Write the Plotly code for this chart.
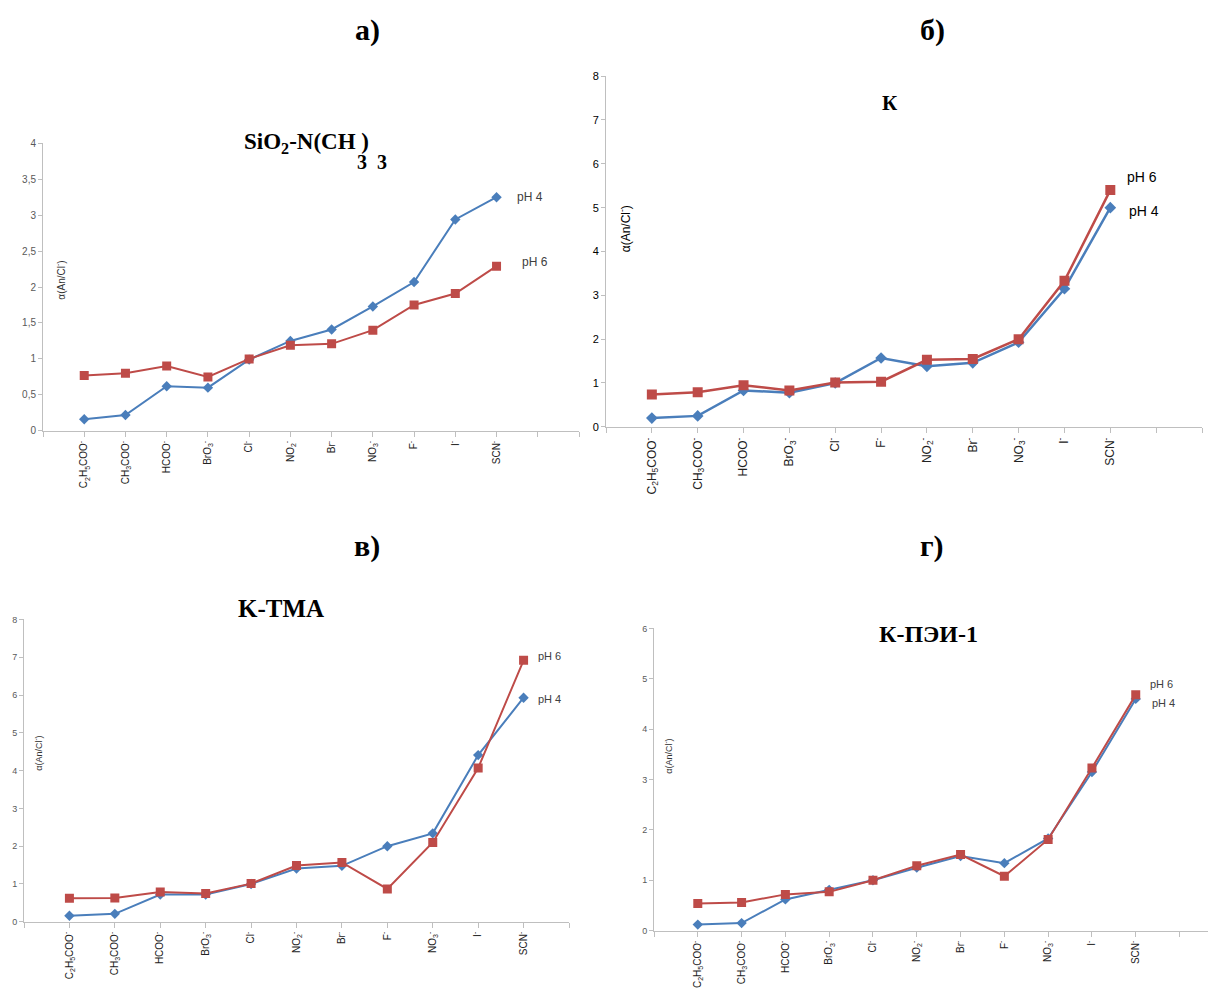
import plotly.graph_objects as go

W, H = 1208, 990

# ---------------- data ----------------
cat_a = ["C<sub>2</sub>H<sub>5</sub>COO<sup>-</sup>", "CH<sub>3</sub>COO<sup>-</sup>", "HCOO<sup>-</sup>",
         "BrO<sub>3</sub><sup>-</sup>", "Cl<sup>-</sup>", "NO<sub>2</sub><sup>-</sup>", "Br<sup>-</sup>",
         "NO<sub>3</sub><sup>-</sup>", "F<sup>-</sup>", "I<sup>-</sup>", "SCN<sup>-</sup>"]
a_ph4 = [0.16, 0.22, 0.62, 0.60, 0.99, 1.25, 1.41, 1.73, 2.07, 2.94, 3.25]
a_ph6 = [0.77, 0.80, 0.90, 0.75, 1.00, 1.19, 1.21, 1.40, 1.75, 1.91, 2.29]

cat_b = ["C<sub>2</sub>H<sub>5</sub>COO<sup>-</sup>", "CH<sub>3</sub>COO<sup>-</sup>", "HCOO<sup>-</sup>",
         "BrO<sub>3</sub><sup>-</sup>", "Cl<sup>-</sup>", "F<sup>-</sup>", "NO<sub>2</sub><sup>-</sup>",
         "Br<sup>-</sup>", "NO<sub>3</sub><sup>-</sup>", "I<sup>-</sup>", "SCN<sup>-</sup>"]
b_ph4 = [0.20, 0.25, 0.83, 0.78, 1.00, 1.57, 1.38, 1.46, 1.93, 3.15, 5.00]
b_ph6 = [0.74, 0.79, 0.95, 0.83, 1.01, 1.03, 1.53, 1.55, 2.00, 3.33, 5.40]

cat_c = ["C<sub>2</sub>H<sub>5</sub>COO<sup>-</sup>", "CH<sub>3</sub>COO<sup>-</sup>", "HCOO<sup>-</sup>",
         "BrO<sub>3</sub><sup>-</sup>", "Cl<sup>-</sup>", "NO<sub>2</sub><sup>-</sup>", "Br<sup>-</sup>",
         "F<sup>-</sup>", "NO<sub>3</sub><sup>-</sup>", "I<sup>-</sup>", "SCN<sup>-</sup>"]
c_ph4 = [0.16, 0.21, 0.72, 0.72, 1.00, 1.41, 1.48, 2.00, 2.34, 4.41, 5.93]
c_ph6 = [0.62, 0.63, 0.79, 0.75, 1.01, 1.49, 1.57, 0.87, 2.10, 4.07, 6.92]

cat_d = cat_c
d_ph4 = [0.12, 0.15, 0.62, 0.81, 1.00, 1.25, 1.48, 1.34, 1.83, 3.15, 4.60]
d_ph6 = [0.54, 0.56, 0.72, 0.77, 1.00, 1.29, 1.51, 1.08, 1.81, 3.23, 4.68]

BLUE = "#4a7ebb"
RED = "#be4b48"
AXC = "#bfbfbf"

fig = go.Figure()

# panel geometry in pixels
panels = [
    dict(cats=cat_a, p4=a_ph4, p6=a_ph6, x0=43, x1=579, yt=139, yb=430, xmax=13, ymax=4, dy=0.5,
         tf=10, tc="#595959", cf=10, lw=2, ms4=8, ms6=9),
    dict(cats=cat_b, p4=b_ph4, p6=b_ph6, x0=606, x1=1202, yt=71, yb=426, xmax=13, ymax=8, dy=1,
         tf=11, tc="#000000", cf=12, lw=2.5, ms4=9, ms6=10),
    dict(cats=cat_c, p4=c_ph4, p6=c_ph6, x0=24, x1=569, yt=621, yb=927, xmax=12, ymax=8, dy=1,
         tf=9, tc="#595959", cf=10, lw=2, ms4=8, ms6=9),
    dict(cats=cat_d, p4=d_ph4, p6=d_ph6, x0=654, x1=1208, yt=630, yb=936, xmax=12.65, ymax=6, dy=1,
         tf=9, tc="#595959", cf=10, lw=2, ms4=8, ms6=9),
]

layout = {}
for i, p in enumerate(panels, start=1):
    xs = list(range(1, len(p["cats"]) + 1))
    xa = "x" if i == 1 else f"x{i}"
    ya = "y" if i == 1 else f"y{i}"
    fig.add_trace(go.Scatter(x=xs, y=p["p4"], mode="lines+markers", xaxis=xa, yaxis=ya,
                             line=dict(color=BLUE, width=p["lw"]),
                             marker=dict(symbol="diamond", size=p["ms4"], color=BLUE),
                             showlegend=False, hoverinfo="skip"))
    fig.add_trace(go.Scatter(x=xs, y=p["p6"], mode="lines+markers", xaxis=xa, yaxis=ya,
                             line=dict(color=RED, width=p["lw"]),
                             marker=dict(symbol="square", size=p["ms6"], color=RED),
                             showlegend=False, hoverinfo="skip"))
    nt = int(p["xmax"]) + 1
    tickvals = list(range(0, nt))
    ticktext = [""] + p["cats"] + [""] * (nt - 1 - len(p["cats"]))
    sx = "" if i == 1 else str(i)
    layout["xaxis" + sx] = dict(
        domain=[p["x0"] / W, p["x1"] / W], range=[0, p["xmax"]], anchor=ya,
        tickmode="array", tickvals=tickvals, ticktext=ticktext, tickangle=-90,
        ticks="outside", ticklen=5, tickcolor=AXC, showline=True, linecolor=AXC, linewidth=1,
        showgrid=False, zeroline=False, tickfont=dict(family="Arial, Liberation Sans", size=p["cf"], color="#222"),
        fixedrange=True)
    layout["yaxis" + sx] = dict(
        domain=[1 - p["yb"] / H, 1 - p["yt"] / H], range=[0, p["ymax"]], anchor=xa,
        dtick=p["dy"], tick0=0, ticks="outside", ticklen=4, tickcolor=AXC,
        showline=True, linecolor=AXC, linewidth=1, showgrid=False, zeroline=False,
        tickfont=dict(family="Arial, Liberation Sans", size=p["tf"], color=p["tc"]), fixedrange=True)

ann = []
def A(text, x, y, size, color="#000", family="Liberation Serif, Times New Roman", angle=0, bold=False):
    t = f"<b>{text}</b>" if bold else text
    ann.append(dict(text=t, x=x / W, y=1 - y / H, xref="paper", yref="paper", showarrow=False,
                    font=dict(size=size, color=color, family=family), textangle=angle,
                    xanchor="center", yanchor="middle"))

# panel headers
A("а)", 367, 24, 30, bold=True)
A("б)", 932, 24, 30, bold=True)
A("в)", 367, 547, 30, bold=True)
A("г)", 932, 547, 30, bold=True)

# panel titles
A("SiO<sub>2</sub>-N(CH )", 306, 139, 23, bold=True)
A("3  3", 372, 158, 20, bold=True)
A("К", 890, 98, 21, bold=True)
A("K-TMA", 281, 610, 25, bold=True)
A("К-ПЭИ-1", 928, 636, 24, bold=True)

# y-axis titles
SANS = "Arial, Liberation Sans"
A("α(An/Cl<sup>-</sup>)", 60, 277, 10, color="#333", family=SANS, angle=-90)
A("α(An/Cl<sup>-</sup>)", 625, 225, 12, color="#000", family=SANS, angle=-90)
A("α(An/Cl<sup>-</sup>)", 38, 757, 9, color="#333", family=SANS, angle=-90)
A("α(An/Cl<sup>-</sup>)", 668, 760, 9, color="#333", family=SANS, angle=-90)

# series labels
A("pH 4", 530, 193, 12, color="#404040", family=SANS)
A("pH 6", 535, 259, 12, color="#404040", family=SANS)
A("pH 6", 1142, 173, 14, color="#000", family=SANS)
A("pH 4", 1144, 208, 14, color="#000", family=SANS)
A("pH 6", 549, 658, 11, color="#404040", family=SANS)
A("pH 4", 549, 701, 11, color="#404040", family=SANS)
A("pH 6", 1161, 686, 11, color="#404040", family=SANS)
A("pH 4", 1163, 706, 11, color="#404040", family=SANS)

fig.update_layout(width=W, height=H, margin=dict(l=0, r=0, t=0, b=0),
                  paper_bgcolor="white", plot_bgcolor="white", separators=", ",
                  annotations=ann, **layout)

fig.write_html("out.html", config={"displayModeBar": False},
               post_script="document.body.style.margin='0';document.body.style.overflow='hidden';")
